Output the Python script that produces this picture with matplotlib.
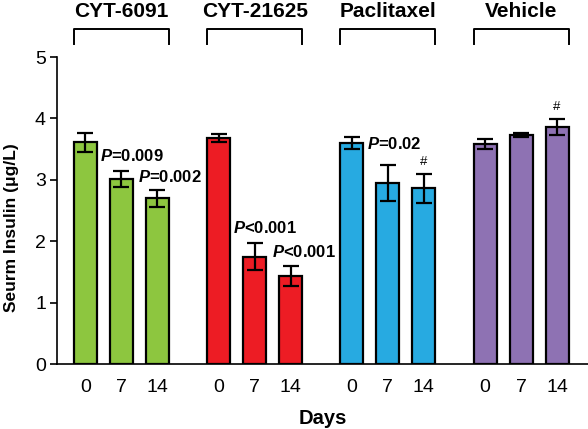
import numpy as np
import matplotlib
matplotlib.use('Agg')
import matplotlib.pyplot as plt

plt.rcParams['font.family'] = ['Liberation Sans', 'DejaVu Sans']
plt.rcParams['mathtext.fontset'] = 'custom'
plt.rcParams['mathtext.it'] = 'Liberation Sans:bold:italic'
plt.rcParams['mathtext.rm'] = 'Liberation Sans:bold'

# dados
grupos = ['CYT-6091', 'CYT-21625', 'Paclitaxel', 'Vehicle']
dias = ['0', '7', '14']
cores = ['#8dc63f', '#ed1c24', '#27aae1', '#8e72b3']
medias = [[3.61, 3.02, 2.70],
          [3.68, 1.75, 1.43],
          [3.60, 2.95, 2.86],
          [3.58, 3.73, 3.86]]
erros = [[0.16, 0.13, 0.14],
         [0.06, 0.22, 0.16],
         [0.10, 0.29, 0.24],
         [0.08, 0.03, 0.13]]
# anotacoes: (grupo, dia, texto)
p_textos = [(0, 1, '$P$=0.009'), (0, 2, '$P$=0.002'),
            (1, 1, '$P$<0.001'), (1, 2, '$P$<0.001'),
            (2, 1, '$P$=0.02')]
hashes = [(2, 2), (3, 2)]

passo = 3.7
larg = 0.64

fig = plt.figure(figsize=(5.88, 4.29), dpi=100)
ax = fig.add_axes([0.097, 0.1515, 0.903, 0.7155])

xt = []
xl = []
for g in range(len(grupos)):
	x = g * passo + np.arange(3)
	ax.bar(x, medias[g], width=larg, color=cores[g], edgecolor='black', linewidth=1.6, zorder=2)
	ax.errorbar(x, medias[g], yerr=erros[g], fmt='none', ecolor='black',
				elinewidth=1.6, capsize=5.5, capthick=1.6, zorder=3)
	xt += list(x)
	xl += dias
	# colchete e titulo
	x0 = x[0] - larg / 2
	x1 = x[2] + larg / 2
	ax.plot([x0, x0, x1, x1], [5.21, 5.46, 5.46, 5.21], color='black', lw=1.4, clip_on=False)
	ax.text((x0 + x1) / 2, 5.75, grupos[g], ha='center', va='center',
			fontsize=15, fontweight='bold')

# textos de P
pos_p = {(0, 1): (0.40, 3.39), (0, 2): (1.45, 3.05),
		 (1, 1): (4.10, 2.21), (1, 2): (5.18, 1.83),
		 (2, 1): (7.82, 3.59)}
for g, d, t in p_textos:
	px, py = pos_p[(g, d)]
	ax.text(px, py, t, ha='left', va='center', fontsize=12, fontweight='bold')

for g, d in hashes:
	x = g * passo + d
	ax.text(x, medias[g][d] + erros[g][d] + 0.19, '#', ha='center', va='center', fontsize=9.5)

ax.set_xlim(-0.79, 13.96)
ax.set_ylim(0, 5)
ax.set_yticks([0, 1, 2, 3, 4, 5])
ax.set_xticks(xt)
ax.set_xticklabels(xl)
ax.tick_params(axis='x', length=0, labelsize=14, pad=11)
ax.tick_params(axis='y', length=5, width=1.2, labelsize=14, pad=3)
for s in ['top', 'right']:
	ax.spines[s].set_visible(False)
ax.spines['left'].set_linewidth(1.2)
ax.spines['bottom'].set_linewidth(1.2)

ax.set_xlabel('Days', fontsize=14.5, fontweight='bold', labelpad=9)
fig.text(0.02, (429 - 228) / 429, 'Seurm Insulin (\u03bcg/L)', rotation=90,
		 ha='center', va='center', fontsize=12.5, fontweight='bold')

fig.savefig('out.png', dpi=100)
